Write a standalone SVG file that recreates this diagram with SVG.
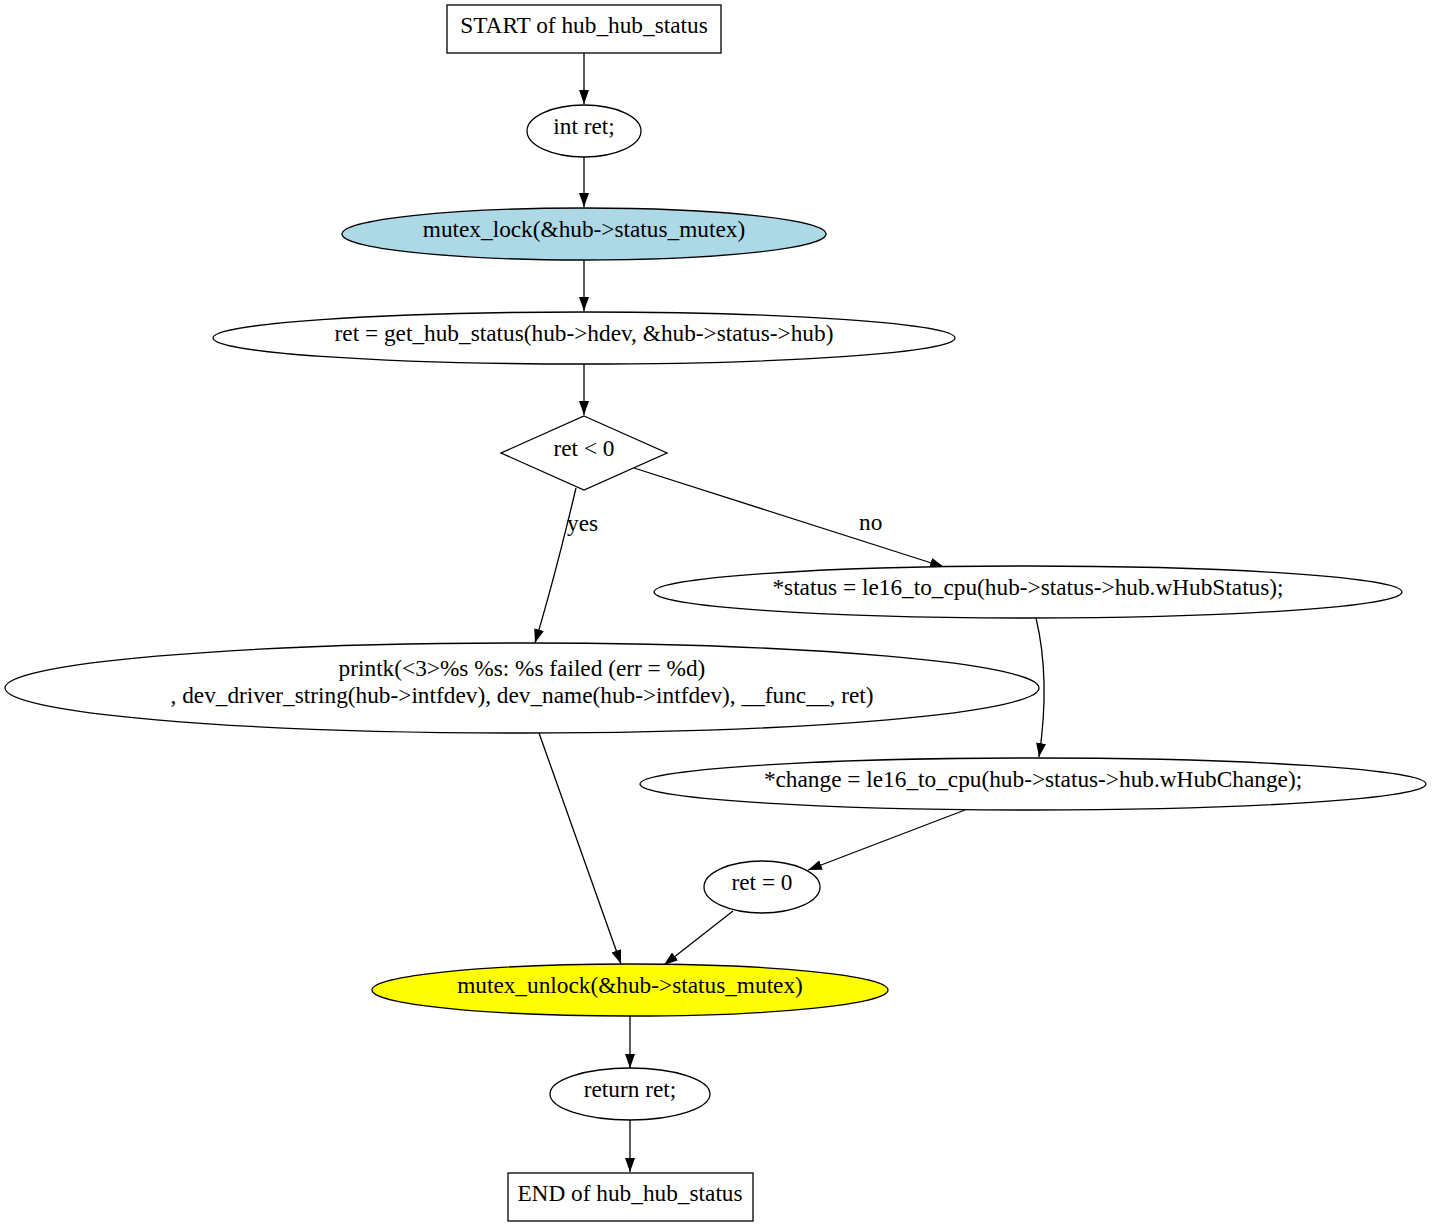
<svg xmlns="http://www.w3.org/2000/svg" width="1432" height="1227" viewBox="0 0 1432 1227">
<style>
text{font-family:"Liberation Serif","Times New Roman",serif;font-size:23.3px;fill:#000;text-anchor:middle}
.n{stroke:#000;stroke-width:1.3;fill:#fff}
.e{stroke:#000;stroke-width:1.3;fill:none;marker-end:url(#ah)}
.lbl{text-anchor:start}
</style>
<defs>
<marker id="ah" markerWidth="14" markerHeight="10" refX="14" refY="5" orient="auto" markerUnits="userSpaceOnUse"><path d="M0,0 L14,5 L0,10 z" fill="#000"/></marker>
</defs>
<rect width="1432" height="1227" fill="#fff"/>
<g id="connectors">
<path class="e" d="M584,53 L584,104"/>
<path class="e" d="M584,157 L584,207"/>
<path class="e" d="M584,260 L584,311"/>
<path class="e" d="M584,364 L584,415"/>
<path class="e" d="M576,488 C566,530 548,600 535,643"/>
<text class="lbl" x="567" y="531">yes</text>
<path class="e" d="M634,468 L944,567"/>
<text class="lbl" x="859" y="530">no</text>
<path class="e" d="M1036,618 C1046,660 1046,710 1039,757"/>
<path class="e" d="M539,733 L621,964"/>
<path class="e" d="M965,810 L808,870"/>
<path class="e" d="M733,911 L664,965"/>
<path class="e" d="M630,1016 L630,1068"/>
<path class="e" d="M630,1120 L630,1172"/>
</g>
<g id="start"><rect class="n" x="447" y="5" width="274" height="48"/><text x="584" y="33">START of hub_hub_status</text></g>
<g id="decl"><ellipse class="n" cx="584" cy="131" rx="57" ry="26"/><text x="584" y="134">int ret;</text></g>
<g id="lock"><ellipse class="n" cx="584" cy="234" rx="242" ry="26" style="fill:#add8e6"/><text x="584" y="237">mutex_lock(&amp;hub-&gt;status_mutex)</text></g>
<g id="get"><ellipse class="n" cx="584" cy="338" rx="371" ry="26"/><text x="584" y="341">ret = get_hub_status(hub-&gt;hdev, &amp;hub-&gt;status-&gt;hub)</text></g>
<g id="cond"><polygon class="n" points="584,416 667,453 584,490 501,453"/><text x="584" y="456">ret &lt; 0</text></g>
<g id="status"><ellipse class="n" cx="1028" cy="592" rx="374" ry="26"/><text x="1028" y="595">*status = le16_to_cpu(hub-&gt;status-&gt;hub.wHubStatus);</text></g>
<g id="printk"><ellipse class="n" cx="522" cy="688" rx="517" ry="45"/><text x="522" y="676">printk(&lt;3&gt;%s %s: %s failed (err = %d)</text><text x="522" y="703">, dev_driver_string(hub-&gt;intfdev), dev_name(hub-&gt;intfdev), __func__, ret)</text></g>
<g id="change"><ellipse class="n" cx="1033" cy="784" rx="393" ry="26"/><text x="1033" y="787">*change = le16_to_cpu(hub-&gt;status-&gt;hub.wHubChange);</text></g>
<g id="ret0"><ellipse class="n" cx="762" cy="887" rx="58" ry="26"/><text x="762" y="890">ret = 0</text></g>
<g id="unlock"><ellipse class="n" cx="630" cy="990" rx="258" ry="26" style="fill:#ffff00"/><text x="630" y="993">mutex_unlock(&amp;hub-&gt;status_mutex)</text></g>
<g id="return"><ellipse class="n" cx="630" cy="1094" rx="80" ry="26"/><text x="630" y="1097">return ret;</text></g>
<g id="end"><rect class="n" x="508" y="1173" width="245" height="48"/><text x="630" y="1201">END of hub_hub_status</text></g>
</svg>
